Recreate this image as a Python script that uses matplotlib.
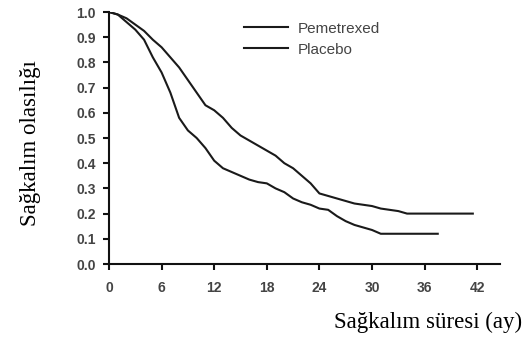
import matplotlib
matplotlib.use("Agg")
import matplotlib.pyplot as plt

# Kaplan-Meier curves
pem_months = [0, 1, 2, 3, 4, 5, 6, 7, 8, 9, 10, 11, 12, 13, 14, 15, 16, 17, 18,
              19, 20, 21, 22, 23, 24, 25, 26, 27, 28, 29, 30, 31, 32, 33, 34, 41.5]
pem_surv = [1.0, 0.99, 0.975, 0.95, 0.925, 0.89, 0.86, 0.82, 0.78, 0.73, 0.68,
            0.63, 0.61, 0.58, 0.54, 0.51, 0.49, 0.47, 0.45, 0.43, 0.40, 0.38,
            0.35, 0.32, 0.28, 0.27, 0.26, 0.25, 0.24, 0.235, 0.23, 0.22, 0.215,
            0.21, 0.20, 0.20]

pla_months = [0, 1, 2, 3, 4, 5, 6, 7, 8, 9, 10, 11, 12, 13, 14, 15, 16, 17, 18,
              19, 20, 21, 22, 23, 24, 25, 26, 27, 28, 29, 30, 31, 37.5]
pla_surv = [1.0, 0.99, 0.96, 0.93, 0.89, 0.82, 0.76, 0.68, 0.58, 0.53, 0.50,
            0.46, 0.41, 0.38, 0.365, 0.35, 0.335, 0.325, 0.32, 0.30, 0.285,
            0.26, 0.245, 0.235, 0.22, 0.215, 0.19, 0.17, 0.155, 0.145, 0.135,
            0.12, 0.12]

x_ticks = [0, 6, 12, 18, 24, 30, 36, 42]
y_ticks = [0.0, 0.1, 0.2, 0.3, 0.4, 0.5, 0.6, 0.7, 0.8, 0.9, 1.0]

fig = plt.figure(figsize=(5.25, 3.37), dpi=100)
ax = fig.add_axes([109 / 525, 1 - 264 / 337, (500 - 109) / 525, 252 / 337])

ax.plot(pem_months, pem_surv, color="#1a1a1a", lw=1.5, label="Pemetrexed")
ax.plot(pla_months, pla_surv, color="#1a1a1a", lw=1.5, label="Placebo")

ax.set_xlim(0, 44.6)
ax.set_ylim(0, 1.0)
ax.set_xticks(x_ticks)
ax.set_yticks(y_ticks)
ax.set_yticklabels([f"{v:.1f}" for v in y_ticks])

for s in ["top", "right"]:
    ax.spines[s].set_visible(False)
for s in ["left", "bottom"]:
    ax.spines[s].set_linewidth(1.5)
    ax.spines[s].set_color("#111111")

ax.tick_params(direction="out", length=4.5, width=1.5, color="#111111",
               labelsize=10, labelcolor="#444444", pad=5)
ax.tick_params(axis="x", pad=8)
for lab in ax.get_xticklabels() + ax.get_yticklabels():
    lab.set_fontfamily("Liberation Sans")
    lab.set_fontweight("bold")

ax.legend(loc="upper left", bbox_to_anchor=(236 / 525, 1 - 14 / 337),
          bbox_transform=fig.transFigure, frameon=False, borderpad=0,
          handlelength=2.9, handletextpad=0.65, labelspacing=0.45,
          prop={"family": "Liberation Sans", "size": 11}, labelcolor="#444444")

fig.text(31 / 525, 1 - 143 / 337, "Sağkalım olasılığı", rotation=90,
         ha="center", va="center", family="Liberation Serif", fontsize=16.5)
fig.text(522 / 525, 1 - 322 / 337, "Sağkalım süresi (ay)", ha="right",
         va="center", family="Liberation Serif", fontsize=16.5)

fig.savefig("out.png", dpi=100)
